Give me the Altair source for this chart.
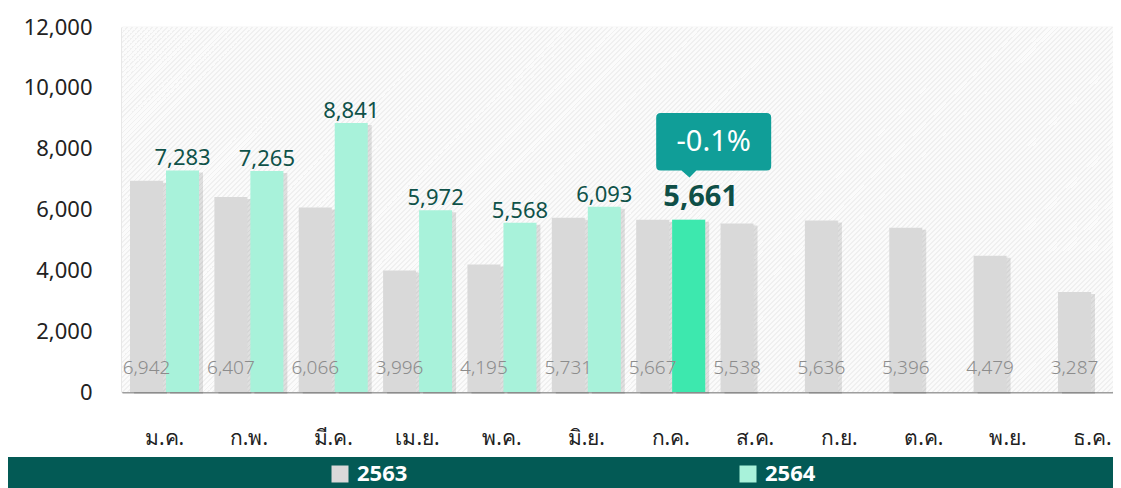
import altair as alt
import pandas as pd

months = ["ม.ค.", "ก.พ.", "มี.ค.", "เม.ย.", "พ.ค.", "มิ.ย.", "ก.ค.", "ส.ค.", "ก.ย.", "ต.ค.", "พ.ย.", "ธ.ค."]
years = ["2563", "2564"]
v2563 = [6942, 6407, 6066, 3996, 4195, 5731, 5667, 5538, 5636, 5396, 4479, 3287]
v2564 = [7283, 7265, 8841, 5972, 5568, 6093, 5661]
y_ticks = [0, 2000, 4000, 6000, 8000, 10000, 12000]
highlight_month = "ก.ค."

rows = []
for m, v in zip(months, v2563):
    rows.append({"month": m, "year": "2563", "value": v})
for m, v in zip(months, v2564):
    rows.append({"month": m, "year": "2564", "value": v})
df = pd.DataFrame(rows)

hi_idx = months.index(highlight_month)
pct = (v2564[hi_idx] - v2563[hi_idx]) / v2563[hi_idx] * 100
callout_df = pd.DataFrame([{"month": highlight_month, "value": v2564[hi_idx],
                            "label": f"{pct:.1f}%"}])

FONT = "Noto Sans, DejaVu Sans, sans-serif"
W, H = 991, 365          # visible plot area (page is 1121 wide)
XR = 1013                # the x scale runs past the right edge, as in the reference

# faint diagonal hatch for the plot background, as a many-stop linear gradient
span = XR + H
period = 5.0
stops = []
i = 0
while True:
    a = i * period / span
    b = (i * period + 1.6) / span
    c = (i + 1) * period / span
    if c > 1:
        break
    stops += [{"offset": a, "color": "#f0f0f0"}, {"offset": b, "color": "#f0f0f0"},
              {"offset": b, "color": "#fbfbfb"}, {"offset": c, "color": "#fbfbfb"}]
    i += 1
gx = span / (XR * (1 + (H / XR) ** 2))
hatch = {"gradient": "linear", "x1": 0, "y1": 0, "x2": gx, "y2": gx * H / XR, "stops": stops}

x_scale = alt.Scale(paddingInner=0.182, paddingOuter=0.095, range=[0, XR])
x_enc = alt.X("month:N", sort=months, scale=x_scale,
              axis=alt.Axis(title=None, labelAngle=0, ticks=False, labelPadding=35,
                            labelFontSize=21, labelColor="#222222", labelFont=FONT,
                            domainColor="#9e9e9e", domainWidth=2, grid=False))
xo_enc = alt.XOffset("year:N", sort=years, scale=alt.Scale(paddingInner=0.083))
y_enc = alt.Y("value:Q", scale=alt.Scale(domain=[0, 12000], nice=False),
              axis=alt.Axis(title=None, values=y_ticks, format=",.0f", ticks=False,
                            labelPadding=30, labelFontSize=22, labelColor="#222222",
                            labelFont=FONT, domainColor="#9e9e9e", domainWidth=1.5,
                            gridColor="#e9e9e9", gridWidth=1.5))

base = alt.Chart(df)

bg = alt.Chart(pd.DataFrame({"a": [0]})).mark_rect(color=hatch).encode(
    x=alt.value(0), x2=alt.value(XR), y=alt.value(0), y2=alt.value(H))

shadow_gray = base.mark_bar(color="#000000", opacity=0.11, width=33,
                            xOffset=-18 + 4, yOffset=2).encode(
    x=x_enc, y=y_enc).transform_filter(alt.datum.year == "2563")
shadow_mint = base.mark_bar(color="#000000", opacity=0.11, width=33,
                            xOffset=18 + 4, yOffset=2).encode(
    x=x_enc, y=y_enc).transform_filter(alt.datum.year == "2564")

bars = base.mark_bar().encode(
    x=x_enc, xOffset=xo_enc, y=y_enc,
    color=alt.Color("year:N", sort=years,
                    scale=alt.Scale(domain=years, range=["#d9d9d9", "#a8f2da"]),
                    legend=alt.Legend(title=None, orient="none", legendX=207, legendY=436,
                                      direction="horizontal", columns=2, symbolType="square",
                                      symbolSize=289, symbolStrokeWidth=0, labelFontSize=22,
                                      labelFontWeight="bold", labelColor="#ffffff",
                                      labelFont=FONT, labelOffset=6, columnPadding=329,
                                      padding=0)))

hi_bar = base.mark_bar(color="#3de8ae").encode(
    x=x_enc, xOffset=xo_enc, y=y_enc
).transform_filter(
    (alt.datum.year == "2564") & (alt.datum.month == highlight_month))

gray_labels = base.mark_text(fontSize=19, color="#8c8c8c", font=FONT, fontWeight=300,
                             baseline="middle").encode(
    x=x_enc, xOffset=xo_enc, y=alt.value(341),
    text=alt.Text("value:Q", format=",")
).transform_filter(alt.datum.year == "2563")

green_labels = base.mark_text(fontSize=22, color="#0f5249", font=FONT,
                              baseline="alphabetic", dy=-5).encode(
    x=x_enc, xOffset=xo_enc, y=y_enc,
    text=alt.Text("value:Q", format=",")
).transform_filter(
    (alt.datum.year == "2564") & (alt.datum.month != highlight_month))

hi_label = base.mark_text(fontSize=29, color="#0f4f47", font=FONT, fontWeight="bold",
                          baseline="alphabetic", dy=-14, dx=12).encode(
    x=x_enc, xOffset=xo_enc, y=y_enc,
    text=alt.Text("value:Q", format=",")
).transform_filter(
    (alt.datum.year == "2564") & (alt.datum.month == highlight_month))

callout_shape = ("M-0.92,-0.5 Q-1,-0.5 -1,-0.42 L-1,0.42 Q-1,0.5 -0.92,0.5 "
                 "L-0.3,0.5 L-0.42,0.62 L-0.56,0.5 "
                 "L0.92,0.5 Q1,0.5 1,0.42 L1,-0.42 Q1,-0.5 0.92,-0.5 Z")
callout_box = alt.Chart(callout_df).mark_point(
    shape=callout_shape, size=13225, filled=True, fill="#109e98", opacity=1,
    strokeWidth=0, xOffset=43, yOffset=-78).encode(x=x_enc, y=y_enc)
callout_text = alt.Chart(callout_df).mark_text(
    fontSize=29, color="#ffffff", font=FONT, fontWeight=400, baseline="middle",
    dx=43, dy=-78).encode(x=x_enc, y=y_enc, text="label:N")

legend_band = alt.Chart(pd.DataFrame({"a": [0]})).mark_rect(color="#035a55").encode(
    x=alt.value(-114), x2=alt.value(W), y=alt.value(430), y2=alt.value(461))

chart = alt.layer(
    bg, legend_band, shadow_gray, shadow_mint, bars, hi_bar, gray_labels,
    green_labels, hi_label, callout_box, callout_text
).properties(
    width=W, height=H,
    autosize=alt.AutoSizeParams(type="none"),
    padding={"left": 114, "top": 19, "right": 0, "bottom": 96},
).configure_view(fill="#ffffff", stroke=None).configure(font=FONT)

chart.save("out.html", embed_options={"renderer": "svg", "actions": False})
